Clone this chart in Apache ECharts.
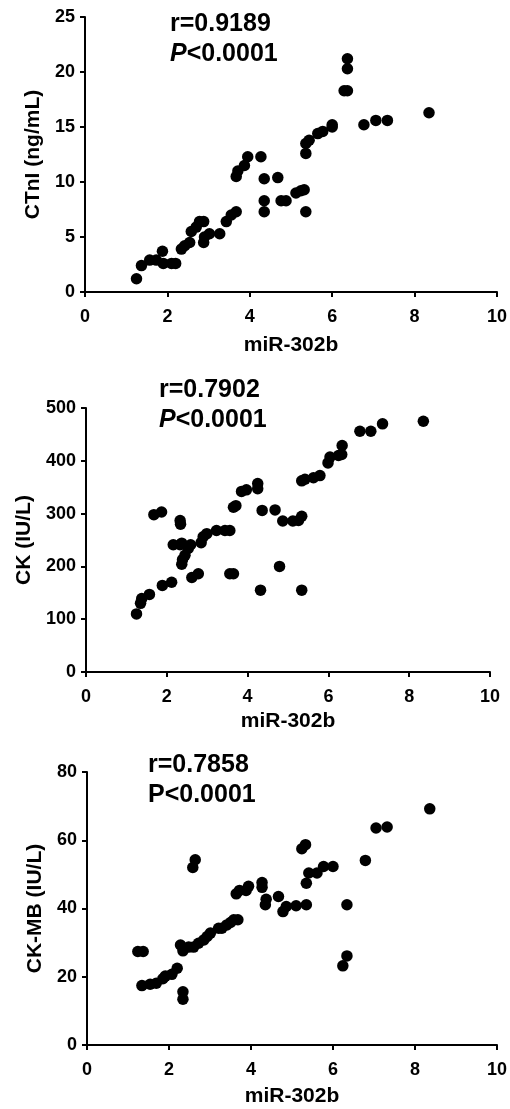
<!DOCTYPE html>
<html>
<head>
<meta charset="utf-8">
<script src="https://cdn.jsdelivr.net/npm/echarts@6/dist/echarts.min.js"></script>
<style>
  html, body { margin: 0; padding: 0; background: #fff; }
  #chart { width: 510px; height: 1109px; }
</style>
</head>
<body>
<div id="chart"></div>
<script>
// miR-302b 与三个心肌指标的相关散点
const xTicks = [0, 2, 4, 6, 8, 10];

// 面板1: CTnI
const ctniX = [1.25, 1.37, 1.57, 1.73, 1.88, 1.9, 2.1, 2.2, 2.34, 2.42, 2.54, 2.58, 2.7, 2.78, 2.88, 2.88, 2.9, 3.02, 3.27, 3.43, 3.55, 3.67, 3.67, 3.71, 3.87, 3.95, 4.27, 4.35, 4.35, 4.35, 4.68, 4.76, 4.88, 5.12, 5.24, 5.32, 5.36, 5.36, 5.36, 5.44, 5.65, 5.77, 6.0, 6.0, 6.29, 6.37, 6.37, 6.37, 6.77, 7.06, 7.34, 8.35];
const ctniY = [1.2, 2.4, 2.9, 2.9, 3.7, 2.6, 2.6, 2.6, 3.9, 4.2, 4.5, 5.5, 5.9, 6.4, 6.4, 4.5, 5.0, 5.3, 5.3, 6.4, 7.0, 7.3, 10.5, 11.0, 11.5, 12.3, 12.3, 10.3, 8.3, 7.3, 10.4, 8.3, 8.3, 9.0, 9.2, 9.3, 7.3, 12.6, 13.5, 13.8, 14.4, 14.6, 15.0, 15.2, 18.3, 18.3, 20.3, 21.2, 15.2, 15.6, 15.6, 16.3];

// 面板2: CK
const ckX = [1.25, 1.35, 1.38, 1.57, 1.68, 1.87, 1.89, 2.12, 2.16, 2.33, 2.34, 2.33, 2.37, 2.37, 2.39, 2.45, 2.53, 2.59, 2.62, 2.78, 2.85, 2.9, 2.99, 3.23, 3.44, 3.56, 3.56, 3.65, 3.65, 3.71, 3.85, 3.97, 4.25, 4.25, 4.32, 4.36, 4.68, 4.79, 4.87, 5.12, 5.26, 5.34, 5.34, 5.34, 5.42, 5.63, 5.79, 5.99, 6.04, 6.25, 6.33, 6.34, 6.78, 7.05, 7.34, 8.35];
const ckY = [110, 130, 139, 147, 298, 303, 164, 170, 241, 287, 280, 241, 244, 204, 213, 221, 234, 241, 179, 186, 245, 256, 262, 268, 268, 268, 186, 186, 312, 315, 342, 345, 357, 347, 155, 306, 307, 200, 286, 286, 287, 295, 155, 362, 365, 368, 372, 396, 407, 410, 412, 429, 456, 456, 470, 475];

// 面板3: CK-MB
const ckmbX = [1.24, 1.37, 1.34, 1.54, 1.69, 1.85, 1.91, 2.07, 2.2, 2.28, 2.34, 2.34, 2.34, 2.48, 2.6, 2.58, 2.64, 2.72, 2.85, 2.93, 3.01, 3.21, 3.29, 3.41, 3.5, 3.58, 3.68, 3.64, 3.72, 3.88, 3.94, 4.27, 4.27, 4.35, 4.37, 4.67, 4.78, 4.86, 5.1, 5.24, 5.33, 5.35, 5.35, 5.41, 5.61, 5.77, 6.0, 6.24, 6.34, 6.34, 6.79, 7.05, 7.32, 8.36];
const ckmbY = [27.4, 27.4, 17.4, 17.8, 18.1, 19.4, 20.2, 20.7, 22.5, 29.3, 27.6, 15.6, 13.4, 28.7, 28.7, 52.0, 54.3, 29.8, 30.8, 31.8, 32.8, 34.2, 34.2, 35.2, 35.9, 36.7, 36.7, 44.3, 45.3, 45.3, 46.5, 47.6, 46.2, 41.1, 42.7, 43.5, 39.1, 40.6, 40.8, 57.5, 58.7, 41.1, 47.4, 50.4, 50.4, 52.3, 52.3, 23.2, 26.1, 41.1, 54.1, 63.6, 63.9, 69.2];

const panels = [
    { xs: ctniX, ys: ctniY, name: 'CTnI (ng/mL)', max: 25, step: 5, r: 'r=0.9189', italicP: true,
      grid: { left: 85, right: 12, top: 17, height: 275 }, text: [170, 9], xGap: 43 },
    { xs: ckX, ys: ckY, name: 'CK (IU/L)', max: 500, step: 100, r: 'r=0.7902', italicP: true,
      grid: { left: 86, right: 20, top: 408, height: 264 }, text: [159, 375], xGap: 39 },
    { xs: ckmbX, ys: ckmbY, name: 'CK-MB (IU/L)', max: 80, step: 20, r: 'r=0.7858', italicP: false,
      grid: { left: 87, right: 13, top: 772, height: 273 }, text: [148, 750], xGap: 41 }
];

const fontFamily = 'Liberation Sans, Arial, sans-serif';
const axisFont = { color: '#000', fontSize: 18, fontWeight: 'bold', fontFamily: fontFamily };
const nameFont = { color: '#000', fontSize: 21, fontWeight: 'bold', fontFamily: fontFamily };
const axisLine = { show: true, onZero: false, lineStyle: { color: '#000', width: 2 } };
const axisTick = { show: true, inside: false, length: 5, lineStyle: { color: '#000', width: 2 } };

(function () {
    const my_echart = echarts.init(document.getElementById('chart'));
    const grid = [], xAxis = [], yAxis = [], series = [], graphic = [];
    panels.forEach(function (p, i) {
        grid.push(Object.assign({ containLabel: false }, p.grid));
        xAxis.push({
            gridIndex: i, type: 'value', min: 0, max: 10, interval: 2,
            name: 'miR-302b', nameLocation: 'middle', nameGap: p.xGap,
            nameTextStyle: nameFont,
            axisLine: axisLine, axisTick: axisTick, splitLine: { show: false },
            axisLabel: Object.assign({ margin: 16 }, axisFont)
        });
        yAxis.push({
            gridIndex: i, type: 'value', min: 0, max: p.max, interval: p.step,
            name: p.name, nameLocation: 'middle', nameGap: 41,
            nameTextStyle: nameFont,
            axisLine: axisLine, axisTick: axisTick, splitLine: { show: false },
            axisLabel: Object.assign({ margin: 10 }, axisFont)
        });
        series.push({
            type: 'scatter', xAxisIndex: i, yAxisIndex: i,
            symbol: 'circle', symbolSize: 11.5,
            itemStyle: { color: '#000', opacity: 1 },
            data: p.xs.map(function (x, k) { return [x, p.ys[k]]; })
        });
        // r 和 P 值标注
        graphic.push({
            type: 'text', left: p.text[0], top: p.text[1],
            style: {
                text: p.r + '\n' + (p.italicP ? '{i|P}' : 'P') + '<0.0001',
                fill: '#000', font: 'bold 25px "Liberation Sans", Arial, sans-serif', lineHeight: 30,
                rich: { i: { fontStyle: 'italic', fontWeight: 'bold', fontSize: 25, fontFamily: fontFamily } }
            }
        });
    });
    my_echart.setOption({ animation: false, grid: grid, xAxis: xAxis, yAxis: yAxis, series: series, graphic: graphic });
    window.addEventListener('resize', function () { my_echart.resize(); });
})();
</script>
</body>
</html>
